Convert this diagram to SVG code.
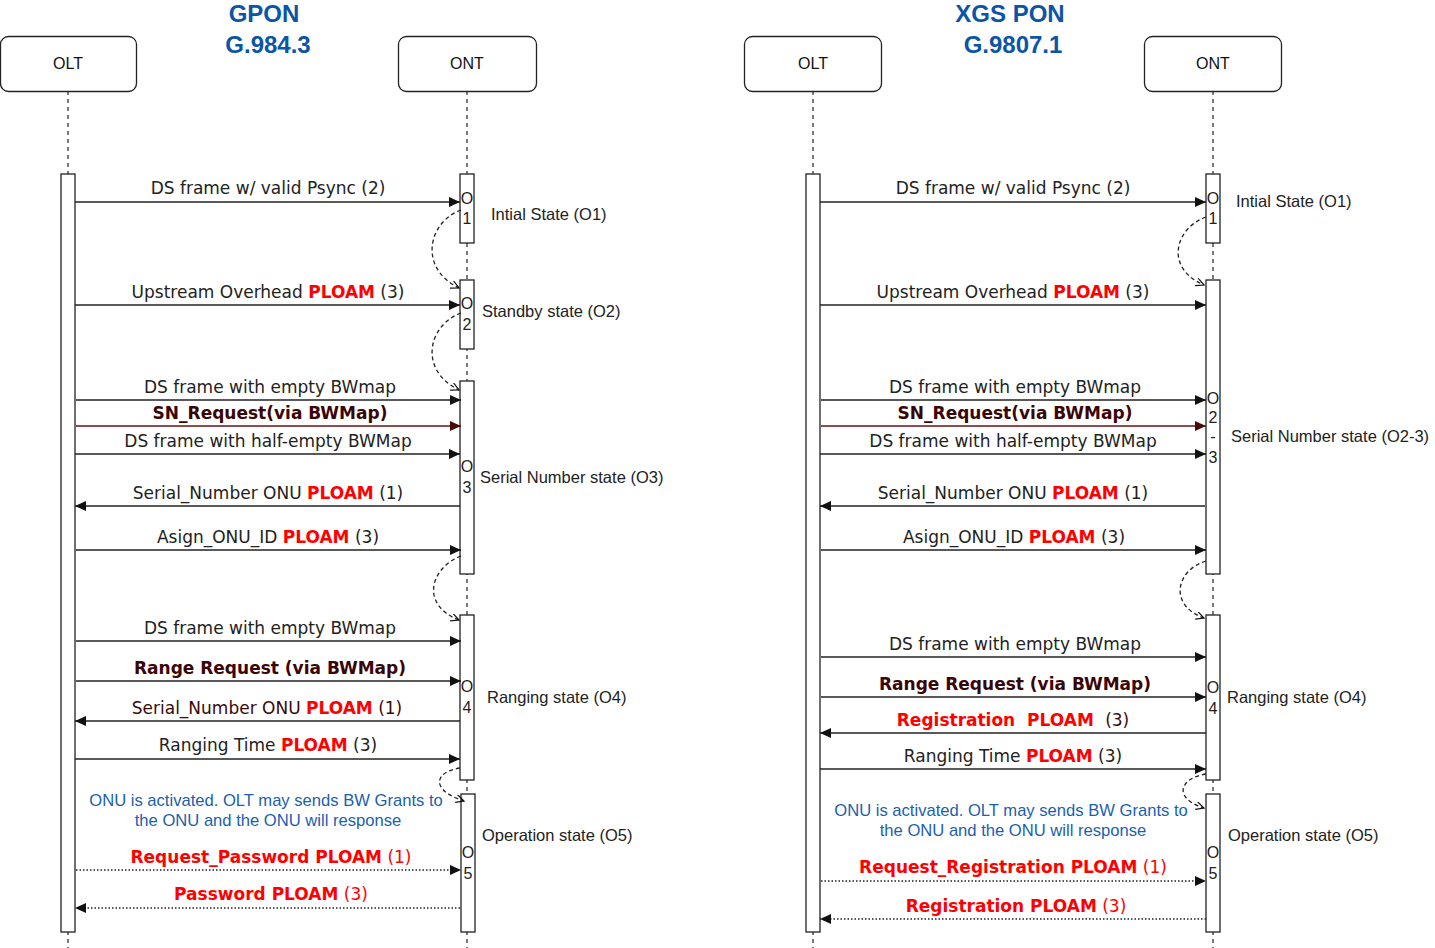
<svg xmlns="http://www.w3.org/2000/svg" width="1435" height="948" viewBox="0 0 1435 948">
<style>
.bg{fill:#fff}
.box{fill:#fff;stroke:#222;stroke-width:1.3}
.bar{fill:#fff;stroke:#222;stroke-width:1.3}
.life{stroke:#222;stroke-width:1.2;stroke-dasharray:4 4;fill:none}
.hdr{font-family:"Liberation Sans",Arial,sans-serif;font-size:16px;fill:#111;text-anchor:middle}
.title{font-family:"Liberation Sans",Arial,sans-serif;font-size:24px;font-weight:bold;fill:#0b55a6;text-anchor:middle}
.msg{font-family:"DejaVu Sans",Verdana,sans-serif;font-size:17px;fill:#222;text-anchor:middle}
.red{fill:#ff0000;font-weight:bold}
.redn{fill:#ff0000}
.dark{fill:#3a0505;font-weight:bold}
.darkn{fill:#3a0a0a}
.state{font-family:"Liberation Sans",Arial,sans-serif;font-size:16.5px;fill:#222}
.num{font-family:"Liberation Sans",Arial,sans-serif;font-size:16px;fill:#222;text-anchor:middle}
.note{font-family:"Liberation Sans",Arial,sans-serif;font-size:16.6px;fill:#1b5fae;text-anchor:middle}
.m{stroke:#222;stroke-width:1.5;fill:none}
.mr{stroke:#6a1010;stroke-width:1.5;fill:none}
.dot{stroke:#222;stroke-width:1.5;stroke-dasharray:1.5 2;fill:none}
.cur{stroke:#222;stroke-width:1.3;stroke-dasharray:4 3;fill:none}
</style>
<defs>
<marker id="ah" markerWidth="12" markerHeight="10" refX="11" refY="5" orient="auto" markerUnits="userSpaceOnUse">
<path d="M0,0 L11,5 L0,10 Z" fill="#111"/>
</marker>
<marker id="ahr" markerWidth="12" markerHeight="10" refX="11" refY="5" orient="auto" markerUnits="userSpaceOnUse">
<path d="M0,0 L11,5 L0,10 Z" fill="#4a0808"/>
</marker>
<marker id="oa" markerWidth="10" markerHeight="10" refX="8" refY="4" orient="auto" markerUnits="userSpaceOnUse">
<path d="M0,0 L8,4 L0,8" fill="none" stroke="#111" stroke-width="1.2"/>
</marker>
</defs>
<rect class="bg" x="0" y="0" width="1435" height="948"/>

<g id="title-left">
<text class="title" x="264" y="22">GPON</text>
<text class="title" x="268" y="53">G.984.3</text>
</g>
<g id="title-right">
<text class="title" x="1010" y="22">XGS PON</text>
<text class="title" x="1013" y="53">G.9807.1</text>
</g>

<g id="lifelines">
<line class="life" x1="68" y1="91" x2="68" y2="948"/>
<line class="life" x1="467" y1="91" x2="467" y2="948"/>
<line class="life" x1="813" y1="91" x2="813" y2="948"/>
<line class="life" x1="1213" y1="91" x2="1213" y2="948"/>
</g>

<g id="olt-left">
<rect class="box" x="0.5" y="36.5" width="136" height="55" rx="8"/>
<text class="hdr" x="68" y="69">OLT</text>
<rect class="bar" x="61" y="174" width="14" height="758"/>
</g>
<g id="ont-left">
<rect class="box" x="398.5" y="36.5" width="138" height="55" rx="8"/>
<text class="hdr" x="467" y="69">ONT</text>
</g>
<g id="left-o1">
<rect class="bar" x="460" y="174" width="14" height="69"/>
<text class="num" x="467" y="204">O</text><text class="num" x="467" y="224">1</text>
<text class="state" x="491" y="220">Intial State (O1)</text>
</g>
<g id="left-o2">
<rect class="bar" x="460" y="280" width="14" height="69"/>
<text class="num" x="467" y="309">O</text><text class="num" x="467" y="330">2</text>
<text class="state" x="482" y="317">Standby state (O2)</text>
</g>
<g id="left-o3">
<rect class="bar" x="460" y="381" width="14" height="193"/>
<text class="num" x="467" y="472">O</text><text class="num" x="467" y="493">3</text>
<text class="state" x="480" y="483">Serial Number state (O3)</text>
</g>
<g id="left-o4">
<rect class="bar" x="460" y="615" width="14" height="165"/>
<text class="num" x="467" y="692">O</text><text class="num" x="467" y="713">4</text>
<text class="state" x="487" y="703">Ranging state (O4)</text>
</g>
<g id="left-o5">
<rect class="bar" x="461" y="794" width="14" height="138"/>
<text class="num" x="468" y="858">O</text><text class="num" x="468" y="879">5</text>
<text class="state" x="482" y="841">Operation state (O5)</text>
</g>

<g id="olt-right">
<rect class="box" x="744.5" y="36.5" width="137" height="55" rx="8"/>
<text class="hdr" x="813" y="69">OLT</text>
<rect class="bar" x="806" y="174" width="14" height="758"/>
</g>
<g id="ont-right">
<rect class="box" x="1144.5" y="36.5" width="137" height="55" rx="8"/>
<text class="hdr" x="1213" y="69">ONT</text>
</g>
<g id="right-o1">
<rect class="bar" x="1206" y="174" width="14" height="69"/>
<text class="num" x="1213" y="204">O</text><text class="num" x="1213" y="224">1</text>
<text class="state" x="1236" y="207">Intial State (O1)</text>
</g>
<g id="right-o23">
<rect class="bar" x="1206" y="280" width="14" height="294"/>
<text class="num" x="1213" y="404">O</text><text class="num" x="1213" y="423">2</text>
<text class="num" x="1213" y="442">-</text><text class="num" x="1213" y="463">3</text>
<text class="state" x="1231" y="442">Serial Number state (O2-3)</text>
</g>
<g id="right-o4">
<rect class="bar" x="1206" y="615" width="14" height="165"/>
<text class="num" x="1213" y="693">O</text><text class="num" x="1213" y="714">4</text>
<text class="state" x="1227" y="703">Ranging state (O4)</text>
</g>
<g id="right-o5">
<rect class="bar" x="1206" y="794" width="14" height="138"/>
<text class="num" x="1213" y="858">O</text><text class="num" x="1213" y="879">5</text>
<text class="state" x="1228" y="841">Operation state (O5)</text>
</g>

<g id="connectors">
<line class="m" x1="75" y1="202" x2="460" y2="202" marker-end="url(#ah)"/>
<line class="m" x1="75" y1="305" x2="460" y2="305" marker-end="url(#ah)"/>
<line class="m" x1="76" y1="400" x2="461" y2="400" marker-end="url(#ah)"/>
<line class="mr" x1="76" y1="426" x2="461" y2="426" marker-end="url(#ahr)"/>
<line class="m" x1="75" y1="454" x2="460" y2="454" marker-end="url(#ah)"/>
<line class="m" x1="460" y1="506" x2="75" y2="506" marker-end="url(#ah)"/>
<line class="m" x1="76" y1="550" x2="461" y2="550" marker-end="url(#ah)"/>
<line class="m" x1="76" y1="641" x2="461" y2="641" marker-end="url(#ah)"/>
<line class="m" x1="76" y1="681" x2="461" y2="681" marker-end="url(#ah)"/>
<line class="m" x1="460" y1="721" x2="75" y2="721" marker-end="url(#ah)"/>
<line class="m" x1="75" y1="759" x2="460" y2="759" marker-end="url(#ah)"/>
<line class="dot" x1="76" y1="870" x2="461" y2="870" marker-end="url(#ah)"/>
<line class="dot" x1="460" y1="908" x2="75" y2="908" marker-end="url(#ah)"/>
<path class="cur" d="M461,210 C428,222 418,268 459,288" marker-end="url(#oa)"/>
<path class="cur" d="M461,313 C428,325 418,370 459,390" marker-end="url(#oa)"/>
<path class="cur" d="M461,556 C430,568 420,605 459,620" marker-end="url(#oa)"/>
<path class="cur" d="M460,768 C434,772 430,790 464,801" marker-end="url(#oa)"/>
<line class="m" x1="820" y1="202" x2="1206" y2="202" marker-end="url(#ah)"/>
<line class="m" x1="820" y1="305" x2="1206" y2="305" marker-end="url(#ah)"/>
<line class="m" x1="821" y1="400" x2="1206" y2="400" marker-end="url(#ah)"/>
<line class="mr" x1="821" y1="426" x2="1206" y2="426" marker-end="url(#ahr)"/>
<line class="m" x1="820" y1="454" x2="1206" y2="454" marker-end="url(#ah)"/>
<line class="m" x1="1205" y1="506" x2="820" y2="506" marker-end="url(#ah)"/>
<line class="m" x1="821" y1="550" x2="1206" y2="550" marker-end="url(#ah)"/>
<line class="m" x1="821" y1="657" x2="1206" y2="657" marker-end="url(#ah)"/>
<line class="m" x1="821" y1="697" x2="1206" y2="697" marker-end="url(#ah)"/>
<line class="m" x1="1206" y1="733" x2="820" y2="733" marker-end="url(#ah)"/>
<line class="m" x1="820" y1="769" x2="1206" y2="769" marker-end="url(#ah)"/>
<line class="dot" x1="821" y1="881" x2="1206" y2="881" marker-end="url(#ah)"/>
<line class="dot" x1="1206" y1="919" x2="820" y2="919" marker-end="url(#ah)"/>
<path class="cur" d="M1206,217 C1175,228 1164,268 1204,285" marker-end="url(#oa)"/>
<path class="cur" d="M1206,561 C1176,570 1168,605 1204,618" marker-end="url(#oa)"/>
<path class="cur" d="M1206,774 C1180,778 1172,798 1204,808" marker-end="url(#oa)"/>
</g>

<g id="labels-left">
<text class="msg" x="268" y="194">DS frame w/ valid Psync (2)</text>
<text class="msg" x="268" y="298">Upstream Overhead <tspan class="red">PLOAM</tspan> (3)</text>
<text class="msg" x="270" y="393">DS frame with empty BWmap</text>
<text class="msg dark" x="270" y="419">SN_Request(via BWMap)</text>
<text class="msg" x="268" y="447">DS frame with half-empty BWMap</text>
<text class="msg" x="268" y="499">Serial_Number ONU <tspan class="red">PLOAM</tspan> (1)</text>
<text class="msg" x="268" y="543">Asign_ONU_ID <tspan class="red">PLOAM</tspan> (3)</text>
<text class="msg" x="270" y="634">DS frame with empty BWmap</text>
<text class="msg dark" x="270" y="674">Range Request (via BWMap)</text>
<text class="msg darkn" x="267" y="714">Serial_Number ONU <tspan class="red">PLOAM</tspan> (1)</text>
<text class="msg" x="268" y="751">Ranging Time <tspan class="red">PLOAM</tspan> (3)</text>
<text class="note" x="266" y="806">ONU is activated. OLT may sends BW Grants to</text>
<text class="note" x="268" y="826">the ONU and the ONU will response</text>
<text class="msg" x="271" y="863"><tspan class="red">Request_Password PLOAM</tspan><tspan class="redn"> (1)</tspan></text>
<text class="msg" x="271" y="900"><tspan class="red">Password PLOAM</tspan><tspan class="redn"> (3)</tspan></text>
</g>
<g id="labels-right">
<text class="msg" x="1013" y="194">DS frame w/ valid Psync (2)</text>
<text class="msg" x="1013" y="298">Upstream Overhead <tspan class="red">PLOAM</tspan> (3)</text>
<text class="msg" x="1015" y="393">DS frame with empty BWmap</text>
<text class="msg dark" x="1015" y="419">SN_Request(via BWMap)</text>
<text class="msg" x="1013" y="447">DS frame with half-empty BWMap</text>
<text class="msg" x="1013" y="499">Serial_Number ONU <tspan class="red">PLOAM</tspan> (1)</text>
<text class="msg" x="1014" y="543">Asign_ONU_ID <tspan class="red">PLOAM</tspan> (3)</text>
<text class="msg" x="1015" y="650">DS frame with empty BWmap</text>
<text class="msg dark" x="1015" y="690">Range Request (via BWMap)</text>
<text class="msg" x="1013" y="726" xml:space="preserve"><tspan class="red">Registration  PLOAM </tspan><tspan class="darkn"> (3)</tspan></text>
<text class="msg" x="1013" y="762">Ranging Time <tspan class="red">PLOAM</tspan> (3)</text>
<text class="note" x="1011" y="816">ONU is activated. OLT may sends BW Grants to</text>
<text class="note" x="1013" y="836">the ONU and the ONU will response</text>
<text class="msg" x="1013" y="873"><tspan class="red">Request_Registration PLOAM</tspan><tspan class="redn"> (1)</tspan></text>
<text class="msg" x="1016" y="912"><tspan class="red">Registration PLOAM</tspan><tspan class="redn"> (3)</tspan></text>
</g>
</svg>
